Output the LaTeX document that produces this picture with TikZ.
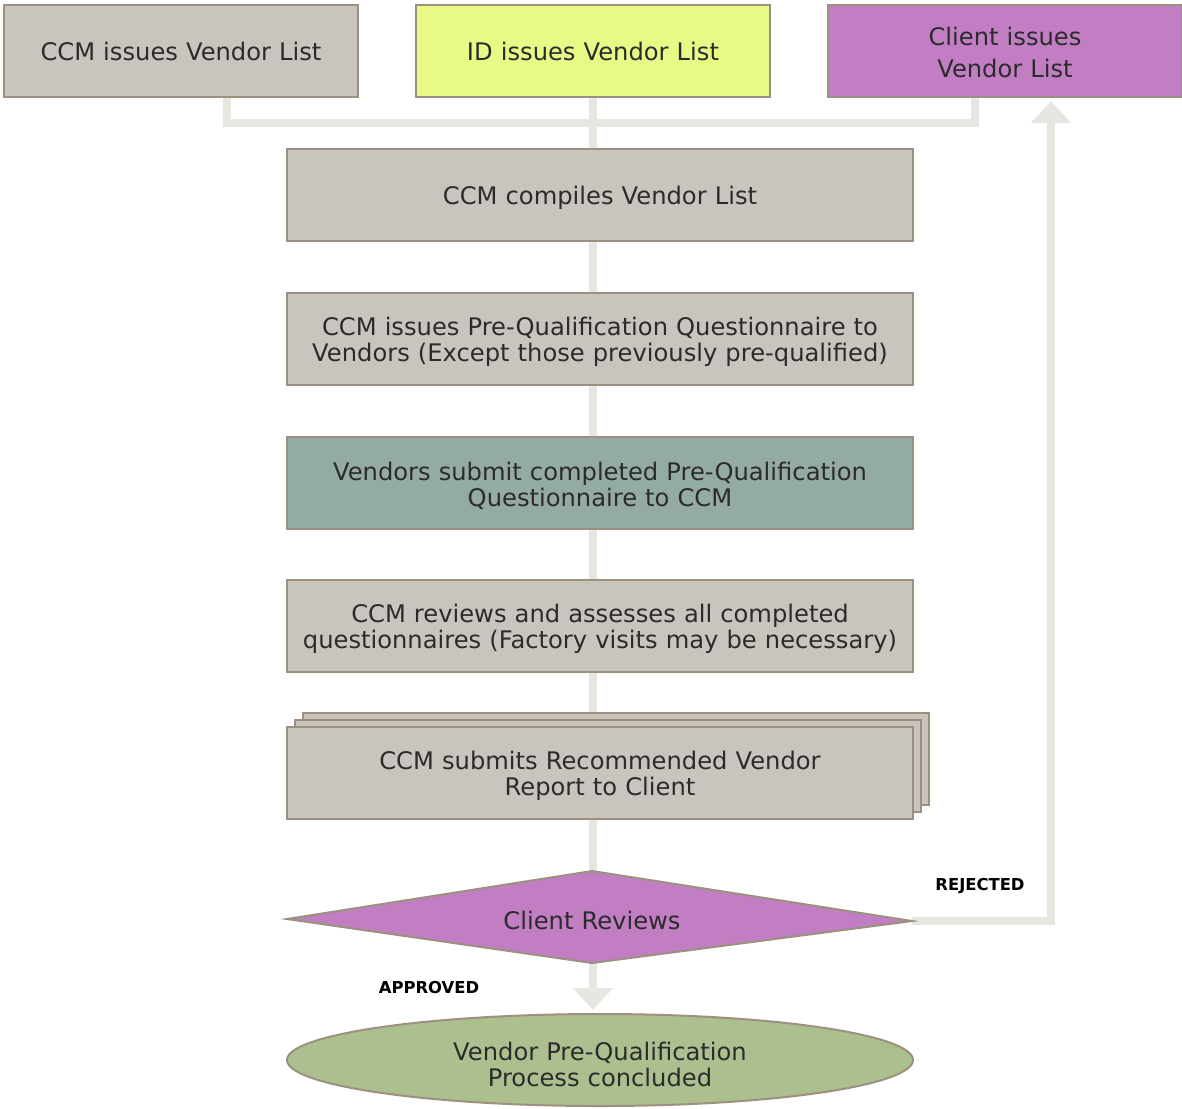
\documentclass[tikz,border=0pt]{standalone}
\usepackage{fontspec}
\setmainfont{DejaVu Sans}
\usetikzlibrary{shapes.geometric,arrows.meta,backgrounds,calc}

\definecolor{boxgray}{HTML}{C9C4BD}
\definecolor{edgegray}{HTML}{9C9180}
\definecolor{wiregray}{HTML}{E8E6E1}
\definecolor{limefill}{HTML}{E9F985}
\definecolor{orchidfill}{HTML}{C27EC3}
\definecolor{sagefill}{HTML}{94AAA4}
\definecolor{olivefill}{HTML}{ADBF8F}
\definecolor{inktext}{HTML}{2B2B2B}

\tikzset{
  % trimming the foot of the text block lowers the text inside its shape
  textdrop/.style={execute at end node={\par\vspace*{-#1}}},
  bodytext/.style={text=inktext, font=\fontsize{24.2}{26.5}\selectfont, align=center},
  stepbox/.style={draw=edgegray, line width=2pt, fill=boxgray,
    minimum width=626pt, minimum height=92pt, inner sep=0pt,
    bodytext, text width=620pt, textdrop=6pt},
  topbox/.style={stepbox, minimum width=354pt, text width=348pt, textdrop=8pt},
  decision/.style={draw=edgegray, line width=2pt, fill=orchidfill, line join=miter},
  wire/.style={draw=wiregray, line width=8pt, line join=miter},
  wirehead/.style={-{Triangle[width=39pt,length=22pt]}},
  verdict/.style={font=\bfseries\fontsize{16.4}{18}\selectfont, text=black, inner sep=0pt},
}

\begin{document}
\begin{tikzpicture}[x=1pt,y=-1pt]
\useasboundingbox (0,0) rectangle (1182,1108);

% sources of the vendor list
\node[topbox] (A) at (181,51) {CCM issues Vendor List};
\node[topbox, fill=limefill] (B) at (593,51) {ID issues Vendor List};
\node[topbox, fill=orchidfill, font=\fontsize{24.2}{32}\selectfont, textdrop=-11pt]
  (C) at (1005,51) {Client issues\\Vendor List};

% main sequence
\node[stepbox] (D) at (600,195) {CCM compiles Vendor List};
\node[stepbox] (E) at (600,339) {CCM issues Pre-Qualification Questionnaire to\\Vendors (Except those previously pre-qualified)};
\node[stepbox, fill=sagefill] (F) at (600,483) {Vendors submit completed Pre-Qualification\\Questionnaire to CCM};
\node[stepbox] (G) at (600,626) {CCM reviews and assesses all completed\\questionnaires (Factory visits may be necessary)};

% stacked report (multiple documents)
\node[stepbox] (H2) at (616,759) {};
\node[stepbox] (H1) at (608,766) {};
\node[stepbox] (H) at (600,773) {CCM submits Recommended Vendor\\Report to Client};

% decision: a slightly skewed rhombus around the text
\coordinate (qw) at (287,919);
\coordinate (qn) at (592,871);
\coordinate (qe) at (912,921);
\coordinate (qs) at (592,963);
\path[decision] (qw) -- (qn) -- (qe) -- (qs) -- cycle;
\node[diamond, shape aspect=6.6, inner sep=0pt, minimum width=626pt, minimum height=92pt,
      bodytext, text width=200pt, textdrop=8pt] (Q) at (592,920) {Client Reviews};

% terminal
\node[ellipse, draw=edgegray, line width=2pt, fill=olivefill, inner sep=0pt,
      minimum width=626pt, minimum height=92pt, bodytext, text width=380pt, textdrop=9pt]
      (V) at (600,1060) {Vendor Pre-Qualification\\Process concluded};

\node[verdict] (rej) at (980,886) {REJECTED};
\node[verdict] (app) at (429,988) {APPROVED};

% connectors behind the boxes
\coordinate (jl) at (227,123);
\coordinate (jr) at (975,123);
\coordinate (rk) at (1051,0);
\begin{pgfonlayer}{background}
  \draw[wire] (jl |- A.south) -- (jl) -- (jr) -- (jr |- C.south);
  \draw[wire] (B.south) -- (B.south |- D.north);
  \draw[wire] (B.south |- D.south) -- (B.south |- E.north);
  \draw[wire] (B.south |- E.south) -- (B.south |- F.north);
  \draw[wire] (B.south |- F.south) -- (B.south |- G.north);
  \draw[wire] (B.south |- G.south) -- (B.south |- H1.north);
  \draw[wire] (B.south |- H.south) -- (B.south |- qn);
  \draw[wire, wirehead, shorten >=3pt] (B.south |- qs) -- (B.south |- V.north);
  \draw[wire, wirehead, shorten >=3pt] (qe) -| (rk |- C.south);
\end{pgfonlayer}
\end{tikzpicture}
\end{document}
